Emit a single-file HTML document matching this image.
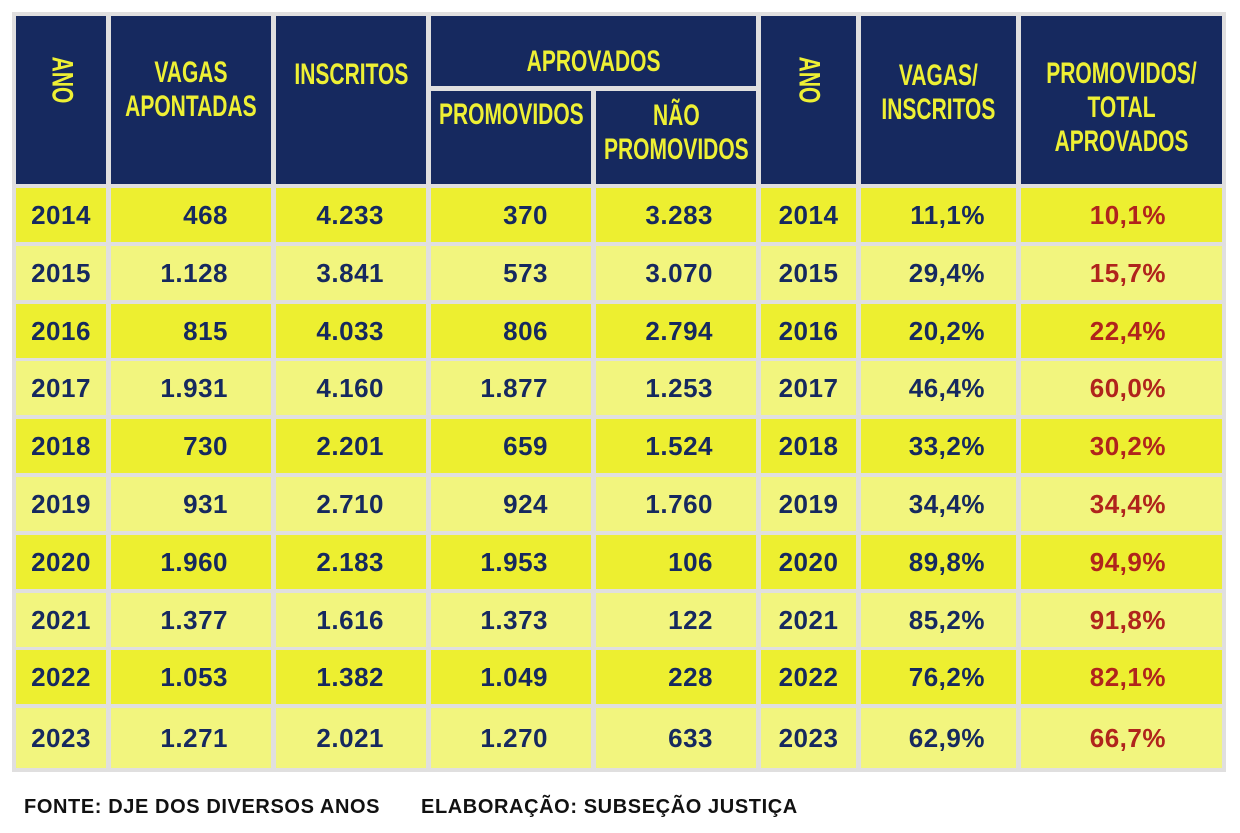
<!DOCTYPE html><html><head><style>
body{margin:0;width:1240px;height:833px;background:#fff;position:relative;overflow:hidden;font-family:"Liberation Sans",sans-serif}
.bg{position:absolute;left:12px;top:12px;width:1214px;height:760px;background:#e0dfdf}
.c{position:absolute;box-sizing:border-box;display:flex;align-items:center;font-weight:bold;font-size:26px;letter-spacing:0.5px;color:#16295f}
.h{background:#16295f;color:#eef034;justify-content:center;text-align:center;font-size:30px;line-height:34px;letter-spacing:0}
.h span{display:inline-block;transform:scaleX(0.7);white-space:nowrap}
.r{justify-content:flex-end}
.m{justify-content:center}
.red{color:#b0241c}
.foot{position:absolute;top:796px;font-weight:bold;font-size:20px;letter-spacing:0.6px;color:#111}
</style></head><body>
<div class="bg"></div>
<div id="t"></div>
<div class="foot" style="left:24px">FONTE: DJE DOS DIVERSOS ANOS</div>
<div class="foot" style="left:421px">ELABORAÇÃO: SUBSEÇÃO JUSTIÇA</div>
<script>
var t=document.getElementById('t'),h='';
function cell(x,y,w,hh,cls,txt,extra){h+='<div class="c '+cls+'" style="left:'+x+'px;top:'+y+'px;width:'+w+'px;height:'+hh+'px;'+(extra||'')+'">'+txt+'</div>';}
var cols=[[16,90],[111,160],[276,150],[431,160],[596,160],[761,95],[861,155],[1021,201]];
cell(16,16,90,168,'h','<span style="transform:rotate(90deg) scaleX(0.7);margin-top:-40px">ANO</span>');
cell(111,16,160,168,'h','<span style="margin-top:-20px">VAGAS<br>APONTADAS</span>');
cell(276,16,150,168,'h','<span style="margin-top:-50px">INSCRITOS</span>');
cell(431,16,325,70,'h','<span style="margin-top:22px">APROVADOS</span>');
cell(431,91,160,93,'h','<span style="margin-top:-45px">PROMOVIDOS</span>');
cell(596,91,160,93,'h','<span style="margin-top:-10px">NÃO<br>PROMOVIDOS</span>');
cell(761,16,95,168,'h','<span style="transform:rotate(90deg) scaleX(0.7);margin-top:-40px">ANO</span>');
cell(861,16,155,168,'h','<span style="margin-top:-14px">VAGAS/<br>INSCRITOS</span>');
cell(1021,16,201,168,'h','<span style="margin-top:16px">PROMOVIDOS/<br>TOTAL<br>APROVADOS</span>');
var d=[["2014","468","4.233","370","3.283","11,1%","10,1%"],["2015","1.128","3.841","573","3.070","29,4%","15,7%"],["2016","815","4.033","806","2.794","20,2%","22,4%"],["2017","1.931","4.160","1.877","1.253","46,4%","60,0%"],["2018","730","2.201","659","1.524","33,2%","30,2%"],["2019","931","2.710","924","1.760","34,4%","34,4%"],["2020","1.960","2.183","1.953","106","89,8%","94,9%"],["2021","1.377","1.616","1.373","122","85,2%","91,8%"],["2022","1.053","1.382","1.049","228","76,2%","82,1%"],["2023","1.271","2.021","1.270","633","62,9%","66,7%"]];
var pr=[0,43,42,43,43,0,31,56];
for(var i=0;i<10;i++){var y=Math.round(188+57.8*i),hh=i==9?60:54,bg=i%2==0?'#edef30':'#f2f57e';
var v=[d[i][0],d[i][1],d[i][2],d[i][3],d[i][4],d[i][0],d[i][5],d[i][6]];
for(var j=0;j<8;j++){var c=cols[j];var cls=(j==0||j==5)?'m':'r';if(j==7)cls+=' red';
cell(c[0],y,c[1],hh,cls,v[j],'background:'+bg+';padding-right:'+pr[j]+'px;');}}
t.innerHTML=h;
</script>
</body></html>
